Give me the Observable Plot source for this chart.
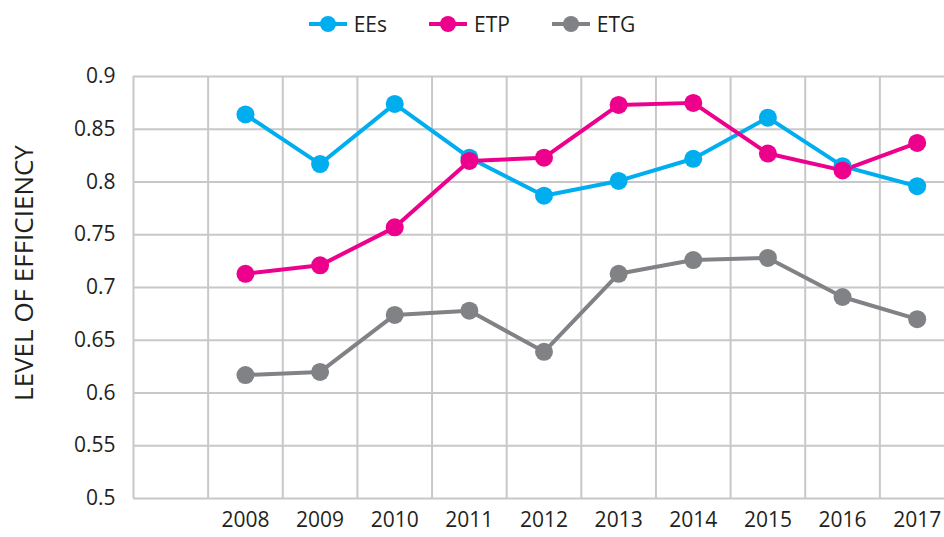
<!DOCTYPE html>
<html><head><meta charset="utf-8">
<script src="https://cdn.jsdelivr.net/npm/d3@7"></script>
<script src="https://cdn.jsdelivr.net/npm/@observablehq/plot@0.6"></script>
<style>
html,body{margin:0;padding:0;background:#fff;overflow:hidden;}
#wrap{position:relative;width:944px;height:537px;font-family:"Open Sans",sans-serif;}
#legend{position:absolute;top:10px;left:0;width:944px;display:flex;justify-content:center;gap:42px;font-size:21px;color:#231f20;}
#legend span{display:flex;align-items:center;gap:7px;}
#ylab{position:absolute;left:23px;top:273px;transform:translate(-50%,-50%) rotate(-90deg);font-size:26px;color:#231f20;white-space:nowrap;}
</style></head>
<body><div id="wrap"><div id="legend"></div><div id="ylab">LEVEL OF EFFICIENCY</div><div id="chart"></div></div>
<script>
const years = [2008, 2009, 2010, 2011, 2012, 2013, 2014, 2015, 2016, 2017];
const seriesNames = ["EEs", "ETP", "ETG"];
const seriesColors = ["#00aeef", "#ec008c", "#808285"];
const EEs = [0.864, 0.817, 0.874, 0.823, 0.787, 0.801, 0.822, 0.861, 0.815, 0.796];
const ETP = [0.713, 0.721, 0.757, 0.820, 0.823, 0.873, 0.875, 0.827, 0.811, 0.837];
const ETG = [0.617, 0.620, 0.674, 0.678, 0.639, 0.713, 0.726, 0.728, 0.691, 0.670];
const yTicks = [0.5, 0.55, 0.6, 0.65, 0.7, 0.75, 0.8, 0.85, 0.9];

const values = {EEs, ETP, ETG};
const data = seriesNames.flatMap(s => years.map((y, i) => ({series: s, year: y, value: values[s][i]})));
const bounds = d3.range(years[0] - 1.5, years[years.length - 1] + 1, 1);

const plot = Plot.plot({
  width: 944, height: 537,
  marginLeft: 133, marginRight: -10, marginTop: 76, marginBottom: 39,
  style: {fontFamily: "Open Sans, sans-serif", fontSize: "21px", color: "#231f20", background: "transparent"},
  x: {domain: [years[0] - 1.5, years[years.length - 1] + 0.5], label: null},
  y: {domain: [0.5, 0.9], label: null},
  color: {domain: seriesNames, range: seriesColors},
  marks: [
    Plot.ruleY(yTicks, {stroke: "#c8c8c8", strokeWidth: 2}),
    Plot.ruleX(bounds, {stroke: "#c8c8c8", strokeWidth: 2}),
    Plot.axisY({ticks: yTicks, tickSize: 0, tickPadding: 18, tickFormat: d => String(+d.toFixed(2)), label: null}),
    Plot.axisX({ticks: years, tickSize: 0, tickPadding: 14, tickFormat: d => String(d), label: null}),
    Plot.line(data, {x: "year", y: "value", z: "series", stroke: "series", strokeWidth: 4}),
    Plot.dot(data, {x: "year", y: "value", fill: "series", r: 9})
  ]
});
document.getElementById("chart").appendChild(plot);

const legend = document.getElementById("legend");
seriesNames.forEach((s, i) => {
  const sp = document.createElement("span");
  sp.innerHTML = `<svg width="38" height="20"><line x1="0" y1="10" x2="38" y2="10" stroke="${seriesColors[i]}" stroke-width="4"/><circle cx="19" cy="10" r="8" fill="${seriesColors[i]}"/></svg>${s}`;
  legend.appendChild(sp);
});
</script></body></html>
